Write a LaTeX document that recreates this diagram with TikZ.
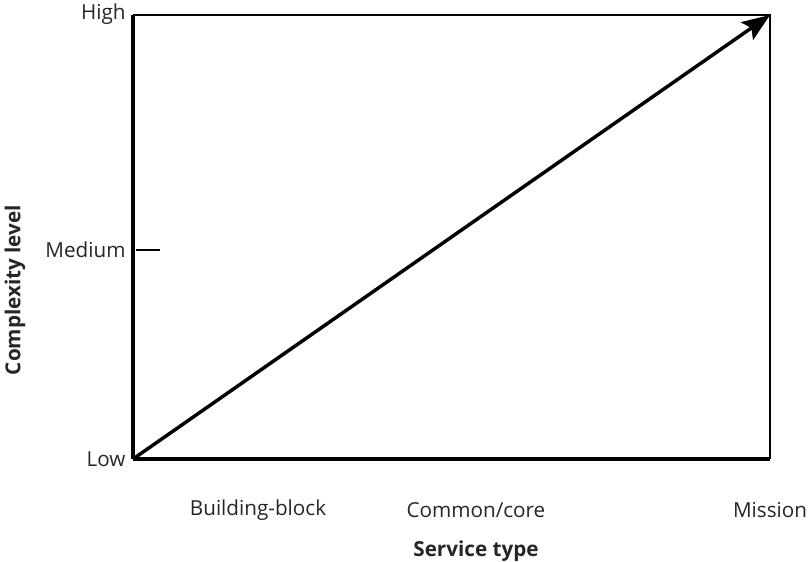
\documentclass[tikz,border=0pt]{standalone}
\usepackage{fontspec}
\setmainfont{Open Sans}
\usetikzlibrary{arrows.meta}
\tikzset{every picture/.style={line width=0.75pt}}
\tikzset{lbl/.style={inner sep=0.75pt, font=\fontsize{15.5}{18}\selectfont, text=black!85}}

\begin{document}
\begin{tikzpicture}[x=0.75pt,y=0.75pt,yscale=-1,xscale=1]
\useasboundingbox (0,0) rectangle (812,561);

% Corners
\coordinate (lo) at (133,459);
\coordinate (hi) at (133,15);
\coordinate (tr) at (770,15);
\coordinate (br) at (770,459);
\coordinate (mdA) at (136,250);
\coordinate (mdB) at (160,250);

%Box, thin sides
\draw [line width=0.9pt]   (hi) -- (tr) -- (br) ;
%Axes
\draw [line width=2.6pt]   (hi) -- (lo) ;
\draw [line width=3.2pt]   (lo) -- (br) ;
%Medium tick
\draw [line width=0.9pt]   (mdA) -- (mdB) ;
%Arrow
\draw [line width=2.6pt, -{Stealth[length=21pt,width=16pt,inset=4pt]}]   (lo) -- (tr) ;

% Text Node
\node [lbl, anchor=east] (high) at (127,14) {High};
% Text Node
\node [lbl, anchor=east] (med) at (127,250) {Medium};
% Text Node
\node [lbl, anchor=east] (low) at (127,459) {Low};
% Text Node
\node [lbl] (bb) at (258,510) {Building-block};
% Text Node
\node [lbl] (cc) at (476,510) {Common/core};
% Text Node
\node [lbl] (mis) at (770,510) {Mission};
% Text Node
\node [lbl, font=\fontsize{15.5}{18}\selectfont\bfseries] (xtitle) at (476,551) {Service type};
% Text Node
\node [lbl, font=\fontsize{15.5}{18}\selectfont\bfseries, rotate=90] (ytitle) at (15,290) {Complexity level};

\end{tikzpicture}
\end{document}
